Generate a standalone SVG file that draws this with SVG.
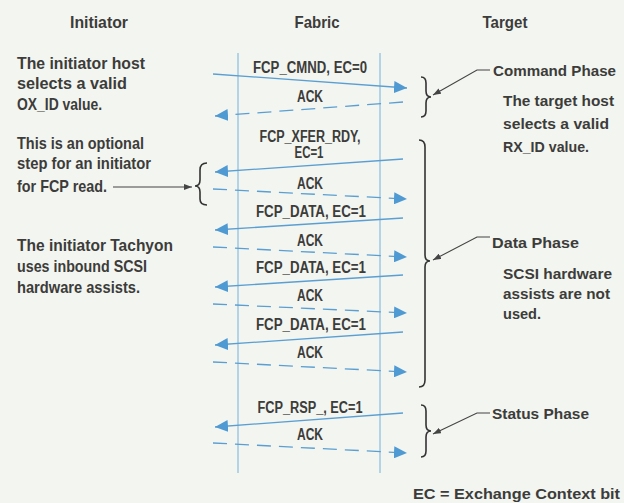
<svg xmlns="http://www.w3.org/2000/svg" width="624" height="503" viewBox="0 0 624 503">
<defs>
<style>
.t{font-family:"Liberation Sans",Arial,sans-serif;font-weight:bold;fill:#3c3c3a}
.h{font-size:17px;text-anchor:middle}
.d{font-size:17px}
.r{font-size:15.5px}
.l{font-size:16px;text-anchor:middle}
.v{stroke:#8cbde0;stroke-width:1.2;fill:none}
.s{stroke:#5b9fd2;stroke-width:1.3;fill:none}
.k{stroke:#5b9fd2;stroke-width:1.3;fill:none;stroke-dasharray:14 8}
.b{stroke:#333;stroke-width:1.6;fill:none}
.p{stroke:#444;stroke-width:1.1;fill:none}
</style>
<marker id="ah" markerUnits="userSpaceOnUse" markerWidth="14" markerHeight="12" refX="13" refY="6" orient="auto">
<path d="M0,0 L13,6 L0,12 z" fill="#4f9ad3"/>
</marker>
<marker id="sh" markerUnits="userSpaceOnUse" markerWidth="8" markerHeight="6" refX="8" refY="3" orient="auto">
<path d="M0,0 L8,3 L0,6 z" fill="#444"/>
</marker>
</defs>
<rect width="624" height="503" fill="#f3f5f0"/>
<g id="headings">
<text class="t h" x="99" y="28" textLength="58" lengthAdjust="spacingAndGlyphs">Initiator</text>
<text class="t h" x="317" y="28" textLength="45" lengthAdjust="spacingAndGlyphs">Fabric</text>
<text class="t h" x="505" y="28" textLength="45" lengthAdjust="spacingAndGlyphs">Target</text>
</g>
<g id="lifelines">
<line class="v" x1="238" y1="53" x2="238" y2="473"/>
<line class="v" x1="380" y1="53" x2="380" y2="473"/>
</g>
<g id="connectors">
<line class="s" x1="213" y1="74" x2="407" y2="88" marker-end="url(#ah)"/>
<line class="k" x1="403" y1="102" x2="215" y2="116" marker-end="url(#ah)"/>
<line class="s" x1="403" y1="159" x2="215" y2="172" marker-end="url(#ah)"/>
<line class="k" x1="213" y1="189" x2="407" y2="199" marker-end="url(#ah)"/>
<line class="s" x1="403" y1="218" x2="215" y2="230" marker-end="url(#ah)"/>
<line class="k" x1="213" y1="247" x2="407" y2="257" marker-end="url(#ah)"/>
<line class="s" x1="403" y1="275" x2="215" y2="287" marker-end="url(#ah)"/>
<line class="k" x1="213" y1="304" x2="407" y2="313" marker-end="url(#ah)"/>
<line class="s" x1="403" y1="332" x2="215" y2="345" marker-end="url(#ah)"/>
<line class="k" x1="213" y1="362" x2="407" y2="372" marker-end="url(#ah)"/>
<line class="s" x1="403" y1="413" x2="215" y2="427" marker-end="url(#ah)"/>
<line class="k" x1="213" y1="443" x2="407" y2="453" marker-end="url(#ah)"/>
<polyline class="p" points="113,187 192,187" marker-end="url(#sh)"/>
<polyline class="p" points="490,70 477,70 433,95" marker-end="url(#sh)"/>
<polyline class="p" points="490,237 477,237 433,260" marker-end="url(#sh)"/>
<polyline class="p" points="490,413 477,413 433,434" marker-end="url(#sh)"/>
</g>
<g id="labels">
<text class="t l" x="310" y="73" textLength="114" lengthAdjust="spacingAndGlyphs">FCP_CMND, EC=0</text>
<text class="t l" x="310" y="102" textLength="26" lengthAdjust="spacingAndGlyphs">ACK</text>
<text class="t l" x="310" y="142" textLength="101" lengthAdjust="spacingAndGlyphs">FCP_XFER_RDY,</text>
<text class="t l" x="309" y="158" textLength="29" lengthAdjust="spacingAndGlyphs">EC=1</text>
<text class="t l" x="310" y="189" textLength="26" lengthAdjust="spacingAndGlyphs">ACK</text>
<text class="t l" x="311" y="217" textLength="110" lengthAdjust="spacingAndGlyphs">FCP_DATA, EC=1</text>
<text class="t l" x="310" y="246" textLength="26" lengthAdjust="spacingAndGlyphs">ACK</text>
<text class="t l" x="311" y="273" textLength="110" lengthAdjust="spacingAndGlyphs">FCP_DATA, EC=1</text>
<text class="t l" x="310" y="301" textLength="26" lengthAdjust="spacingAndGlyphs">ACK</text>
<text class="t l" x="311" y="330" textLength="110" lengthAdjust="spacingAndGlyphs">FCP_DATA, EC=1</text>
<text class="t l" x="310" y="358" textLength="26" lengthAdjust="spacingAndGlyphs">ACK</text>
<text class="t l" x="310" y="413" textLength="105" lengthAdjust="spacingAndGlyphs">FCP_RSP_, EC=1</text>
<text class="t l" x="310" y="440" textLength="26" lengthAdjust="spacingAndGlyphs">ACK</text>
</g>
<g id="braces">
<path class="b" d="M207,163 Q200,163 200,170 L200,180 Q200,186 195,186 Q200,186 200,192 L200,199 Q200,205 207,205"/>
<path class="b" d="M421,77 Q426,77 426,83 L426,91 Q426,97 431,97 Q426,97 426,103 L426,111 Q426,117 421,117"/>
<path class="b" d="M419,140 Q425,140 425,147 L425,255 Q425,261 430,261 Q425,261 425,267 L425,380 Q425,387 419,387"/>
<path class="b" d="M421,405 Q426,405 426,411 L426,425 Q426,431 431,431 Q426,431 426,437 L426,451 Q426,457 421,457"/>
</g>
<g id="initiator-notes">
<text class="t d" x="17" y="69" textLength="128" lengthAdjust="spacingAndGlyphs">The initiator host</text>
<text class="t d" x="17" y="89" textLength="110" lengthAdjust="spacingAndGlyphs">selects a valid</text>
<text class="t d" x="17" y="110" textLength="85" lengthAdjust="spacingAndGlyphs">OX_ID value.</text>
<text class="t d" x="17" y="149" textLength="127" lengthAdjust="spacingAndGlyphs">This is an optional</text>
<text class="t d" x="17" y="169" textLength="134" lengthAdjust="spacingAndGlyphs">step for an initiator</text>
<text class="t d" x="17" y="192" textLength="90" lengthAdjust="spacingAndGlyphs">for FCP read.</text>
<text class="t d" x="17" y="251" textLength="156" lengthAdjust="spacingAndGlyphs">The initiator Tachyon</text>
<text class="t d" x="17" y="272" textLength="130" lengthAdjust="spacingAndGlyphs">uses inbound SCSI</text>
<text class="t d" x="17" y="293" textLength="123" lengthAdjust="spacingAndGlyphs">hardware assists.</text>
</g>
<g id="target-notes">
<text class="t r" x="493" y="76" textLength="123" lengthAdjust="spacingAndGlyphs">Command Phase</text>
<text class="t r" x="503" y="106" textLength="111" lengthAdjust="spacingAndGlyphs">The target host</text>
<text class="t r" x="503" y="129" textLength="106" lengthAdjust="spacingAndGlyphs">selects a valid</text>
<text class="t r" x="503" y="152" textLength="86" lengthAdjust="spacingAndGlyphs">RX_ID value.</text>
<text class="t r" x="492" y="248" textLength="87" lengthAdjust="spacingAndGlyphs">Data Phase</text>
<text class="t r" x="503" y="279" textLength="109" lengthAdjust="spacingAndGlyphs">SCSI hardware</text>
<text class="t r" x="503" y="299" textLength="107" lengthAdjust="spacingAndGlyphs">assists are not</text>
<text class="t r" x="503" y="319" textLength="38" lengthAdjust="spacingAndGlyphs">used.</text>
<text class="t r" x="492" y="419" textLength="97" lengthAdjust="spacingAndGlyphs">Status Phase</text>
<text class="t r" x="413" y="499" textLength="207" lengthAdjust="spacingAndGlyphs">EC = Exchange Context bit</text>
</g>
</svg>
